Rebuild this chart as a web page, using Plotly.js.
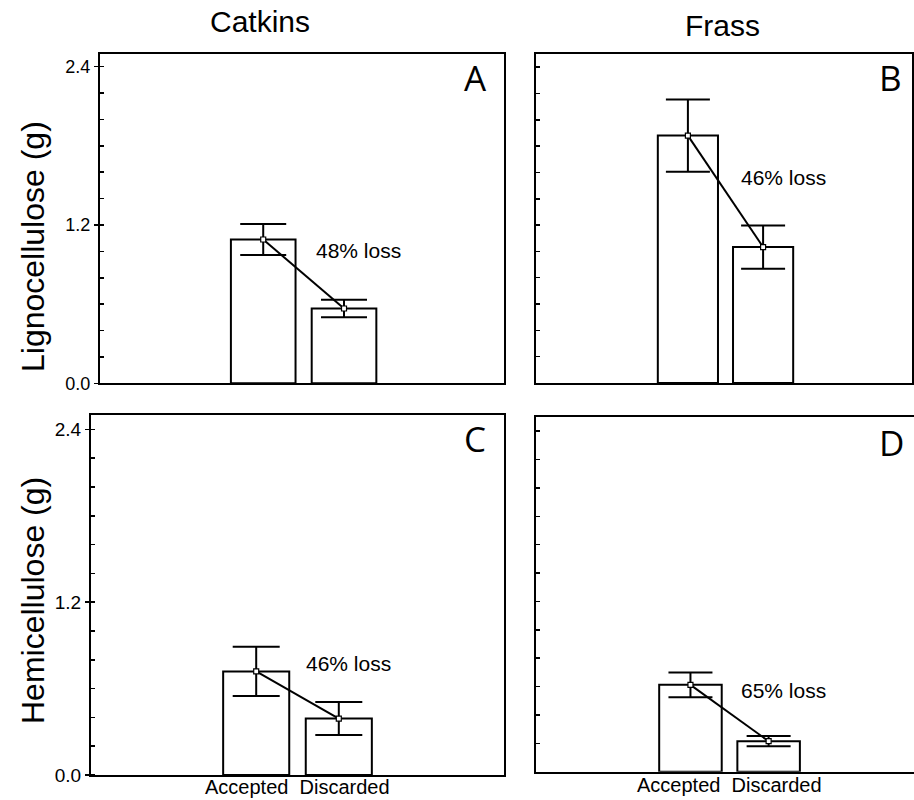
<!DOCTYPE html>
<html>
<head>
<meta charset="utf-8">
<script src="https://cdn.plot.ly/plotly-3.0.1.min.js"></script>
<style>html,body{margin:0;padding:0;background:#fff;}#chart{width:914px;height:800px;}</style>
</head>
<body>
<div id="chart"></div>
<script>
// ---- data ----
const categories = ['Accepted', 'Discarded'];
const columnTitles = ['Catkins', 'Frass'];
const rowTitles = ['Lignocellulose (g)', 'Hemicellulose (g)'];
const panelLetters = ['A', 'B', 'C', 'D'];

const lignoCatkins = [1.09, 0.567];
const lignoCatkinsErr = [0.117, 0.067];
const lignoFrass = [1.88, 1.033];
const lignoFrassErr = [0.275, 0.164];
const hemiCatkins = [0.719, 0.392];
const hemiCatkinsErr = [0.171, 0.115];
const hemiFrass = [0.612, 0.215];
const hemiFrassErr = [0.088, 0.036];

const lossLabels = ['48% loss', '46% loss', '46% loss', '65% loss'];
const yTickVals = [0, 1.2, 2.4];
const yTickText = ['0.0', '1.2', '2.4'];

// ---- layout helpers ----
const W = 914, H = 800;
const px = x => x / W;
const py = y => 1 - y / H;
const FONT = 'Liberation Sans, Arial, Helvetica, sans-serif';
const xIdx = categories.map((c, i) => i);

const panels = [
  {vals: lignoCatkins, err: lignoCatkinsErr, xd: [px(100), px(504)], yd: [py(383.3), py(53.5)], xr: [-2.02, 2.98], labels: true, xlabelY: null, cap: 23, mirrorY: true},
  {vals: lignoFrass, err: lignoFrassErr, xd: [px(536), px(912)], yd: [py(383), py(54)], xr: [-2.02, 2.98], labels: false, xlabelY: null, cap: 22, mirrorY: true},
  {vals: hemiCatkins, err: hemiCatkinsErr, xd: [px(91), px(504)], yd: [py(775), py(415)], xr: [-2.0, 3.0], labels: true, xlabelY: 787, cap: 23.5, mirrorY: true},
  {vals: hemiFrass, err: hemiFrassErr, xd: [px(535.7), 1], yd: [py(771.7), py(417)], xr: [-1.98, 2.86], labels: false, xlabelY: 785, cap: 22, mirrorY: false}
];

const traces = [];
const layout = {
  width: W, height: H,
  margin: {l: 0, r: 0, t: 0, b: 0},
  paper_bgcolor: '#fff', plot_bgcolor: '#fff',
  showlegend: false,
  font: {family: FONT, color: '#000'},
  annotations: []
};

panels.forEach((p, i) => {
  const n = i + 1;
  const xa = 'x' + (n === 1 ? '' : n), ya = 'y' + (n === 1 ? '' : n);
  traces.push({
    type: 'bar', x: xIdx, y: p.vals, width: 0.8,
    xaxis: xa, yaxis: ya,
    marker: {color: '#fff', line: {color: '#000', width: 2}},
    error_y: {type: 'data', array: p.err, visible: true, color: '#000', thickness: 2, width: p.cap},
    hoverinfo: 'none'
  });
  traces.push({
    type: 'scatter', mode: 'lines+markers', x: xIdx, y: p.vals,
    xaxis: xa, yaxis: ya,
    line: {color: '#000', width: 2},
    marker: {symbol: 'square', size: 5, color: '#fff', line: {color: '#000', width: 1.2}},
    hoverinfo: 'none'
  });
  const xk = 'xaxis' + (n === 1 ? '' : n), yk = 'yaxis' + (n === 1 ? '' : n);
  layout[xk] = {
    domain: p.xd, range: p.xr, anchor: ya,
    showline: true, linecolor: '#000', linewidth: 2, mirror: true,
    showgrid: false, zeroline: false, ticks: '', showticklabels: false,
    fixedrange: true
  };
  layout[yk] = {
    domain: p.yd, range: [0, 2.5], anchor: xa,
    showline: true, linecolor: '#000', linewidth: 2, mirror: p.mirrorY,
    showgrid: false, zeroline: false, fixedrange: true,
    tickmode: 'array', tickvals: yTickVals, ticktext: yTickText,
    showticklabels: p.labels,
    tickfont: {size: i === 0 ? 18 : 19, family: FONT, color: '#000'},
    ticks: p.labels ? 'outside' : 'inside', ticklen: 4, tickwidth: 1.5, tickcolor: '#000',
    minor: {tick0: 0, dtick: 0.2, ticks: 'inside', ticklen: 4, tickwidth: 1.5, tickcolor: '#000', showgrid: false},
    ticklabelstandoff: 0
  };
  if (p.xlabelY !== null) {
    // category labels under the bars, written as one line as in the reference
    layout.annotations.push({
      text: categories.join('\u00A0\u00A0'), x: 0.5, xref: xa, y: py(p.xlabelY), yref: 'paper',
      xanchor: 'center', yanchor: 'middle', showarrow: false,
      font: {family: FONT, size: 20, color: '#000'}
    });
  }
});

// panel letters
const letterPos = [[475.5, 77.5], [890, 77.5], [475, 438], [891.7, 442.5]];
panelLetters.forEach((t, i) => layout.annotations.push({
  text: t, x: px(letterPos[i][0]), y: py(letterPos[i][1]), xref: 'paper', yref: 'paper',
  xanchor: 'center', yanchor: 'middle', showarrow: false,
  font: {family: 'Open Sans, Noto Sans, sans-serif', size: 35, color: '#000'}
}));
// loss labels
const lossPos = [[358.7, 251], [783.9, 177.7], [348.3, 663], [783.9, 690.7]];
lossLabels.forEach((t, i) => layout.annotations.push({
  text: t, x: px(lossPos[i][0]), y: py(lossPos[i][1]), xref: 'paper', yref: 'paper',
  xanchor: 'center', yanchor: 'middle', showarrow: false,
  font: {family: FONT, size: 21, color: '#000'}
}));
// column titles
const colPos = [[260, 22], [722.5, 25]];
columnTitles.forEach((t, i) => layout.annotations.push({
  text: t, x: px(colPos[i][0]), y: py(colPos[i][1]), xref: 'paper', yref: 'paper',
  xanchor: 'center', yanchor: 'middle', showarrow: false,
  font: {family: FONT, size: 30, color: '#000'}
}));
// row titles
const rowPos = [[33, 247], [33, 601]];
rowTitles.forEach((t, i) => layout.annotations.push({
  text: t, x: px(rowPos[i][0]), y: py(rowPos[i][1]), xref: 'paper', yref: 'paper',
  xanchor: 'center', yanchor: 'middle', showarrow: false, textangle: -90,
  font: {family: FONT, size: 32, color: '#000'}
}));

Plotly.newPlot('chart', traces, layout, {displayModeBar: false, staticPlot: true});
</script>
</body>
</html>
